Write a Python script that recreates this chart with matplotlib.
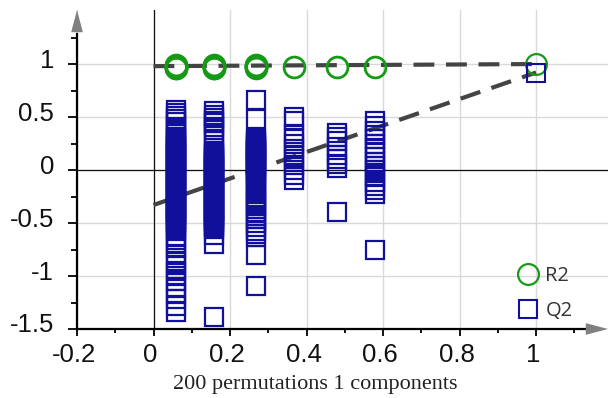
import matplotlib
matplotlib.use('Agg')
import matplotlib.pyplot as plt
import matplotlib.transforms as mtransforms
import numpy as np

# permutation test: correlation (x) vs R2 / Q2
x_perm = [0.06, 0.157, 0.268, 0.367, 0.479, 0.58]

q2_c1 = [0.57, 0.54, 0.51, 0.48, 0.45, 0.41, 0.38, 0.35, 0.31,
         0.30, 0.285, 0.27, 0.255, 0.24, 0.225, 0.21, 0.195, 0.18, 0.165,
         0.15, 0.135, 0.12, 0.105, 0.09, 0.075, 0.06, 0.045, 0.03, 0.015,
         0.0, -0.015, -0.03, -0.045, -0.06, -0.075, -0.09, -0.105, -0.12, -0.135,
         -0.15, -0.165, -0.18, -0.195, -0.21, -0.225, -0.24, -0.255, -0.27, -0.285,
         -0.30, -0.315, -0.33, -0.345, -0.36, -0.375, -0.39, -0.405, -0.42, -0.435,
         -0.45, -0.465, -0.48, -0.495, -0.51, -0.525,
         -0.55, -0.58, -0.62, -0.66, -0.70, -0.74, -0.80, -0.86, -0.90, -0.95,
         -1.00, -1.05, -1.10, -1.16, -1.22, -1.28, -1.34]
q2_c2 = [0.56, 0.52, 0.49, 0.46, 0.44, 0.41, 0.38, 0.33, 0.27, 0.21,
         0.18, 0.165, 0.15, 0.135, 0.12, 0.105, 0.09, 0.075, 0.06, 0.045,
         0.03, 0.015, 0.0, -0.015, -0.03, -0.045, -0.06, -0.075, -0.09, -0.105,
         -0.12, -0.135, -0.15, -0.165, -0.18, -0.195, -0.21, -0.225, -0.24, -0.255,
         -0.27, -0.285, -0.30, -0.315, -0.33, -0.345, -0.36, -0.375, -0.39, -0.405,
         -0.42, -0.435, -0.45, -0.465, -0.48, -0.495, -0.51, -0.525, -0.54, -0.555,
         -0.61, -0.70, -1.39]
q2_c3 = [0.66, 0.48,
         0.30, 0.285, 0.27, 0.255, 0.24, 0.225, 0.21, 0.195, 0.18, 0.165,
         0.15, 0.135, 0.12, 0.105, 0.09, 0.075, 0.06, 0.045, 0.03, 0.015,
         0.0, -0.015,
         -0.04, -0.07, -0.10, -0.13, -0.16, -0.19, -0.22, -0.25, -0.28, -0.31,
         -0.34, -0.37, -0.40, -0.43, -0.46, -0.50, -0.54, -0.58, -0.60, -0.63,
         -0.80, -1.09]
q2_c4 = [0.50, 0.46, 0.34, 0.30, 0.25, 0.20, 0.14, 0.10, 0.05, 0.00, -0.05, -0.09]
q2_c5 = [0.35, 0.31, 0.27, 0.22, 0.14, 0.10, 0.06, 0.02, -0.40]
q2_c6 = [0.46, 0.42, 0.37, 0.33, 0.29, 0.25, 0.21, 0.17, 0.12, 0.08,
         0.04, 0.00, -0.03, -0.07, -0.11, -0.15, -0.19, -0.23, -0.75]

r2_c1 = [0.99, 0.985, 0.98, 0.975, 0.97, 0.965, 0.96]
r2_c2 = [0.99, 0.985, 0.98, 0.975, 0.97, 0.965, 0.96]
r2_c3 = [0.99, 0.985, 0.98, 0.975, 0.97, 0.965]
r2_c4 = [0.975]
r2_c5 = [0.975]
r2_c6 = [0.975]

q2_perm = [q2_c1, q2_c2, q2_c3, q2_c4, q2_c5, q2_c6]
r2_perm = [r2_c1, r2_c2, r2_c3, r2_c4, r2_c5, r2_c6]

# original model
x_orig = 1.0
r2_orig = 1.0
q2_orig = 0.92

# regression lines (value at x=0 and x=1)
fit_x = [0, 1]
r2_fit = [0.98, 1.0]
q2_fit = [-0.33, 0.92]

xticks = [-0.2, 0, 0.2, 0.4, 0.6, 0.8, 1]
xticklabels = ['-0.2', '0', '0.2', '0.4', '0.6', '0.8', '1']
yticks = [-1.5, -1, -0.5, 0, 0.5, 1]
yticklabels = ['-1.5', '-1', '-0.5', '0', '0.5', '1']

green = '#159a15'
blue = '#10109a'

fig = plt.figure(figsize=(6.1, 3.98), dpi=100)
ax = fig.add_axes([77/610, 69/398, 531/610, 319/398])
ax.set_xlim(-0.2, 1.188)
ax.set_ylim(-1.5, 1.51)

ax.grid(True, color='#d9d9d9', lw=1.0, zorder=0)
ax.set_axisbelow(True)
ax.axhline(0, color='#111111', lw=0.9, zorder=1)
ax.axvline(0, color='#111111', lw=0.9, zorder=1)

ax.plot(fit_x, r2_fit, color='#444444', lw=3, dashes=(5, 2.8), zorder=2)
ax.plot(fit_x, q2_fit, color='#444444', lw=3, dashes=(5, 2.8), zorder=2)

for xv, vals in zip(x_perm, q2_perm):
    ax.plot([xv]*len(vals), vals, 's', ms=12.5, mfc='none', mec=blue, mew=1.6, zorder=3)
for xv, vals in zip(x_perm, r2_perm):
    ax.plot([xv]*len(vals), vals, 'o', ms=15, mfc='none', mec=green, mew=2, zorder=3)
h_r2, = ax.plot([x_orig], [r2_orig], 'o', ms=15, mfc='none', mec=green, mew=1.6, zorder=3)
h_q2, = ax.plot([x_orig], [q2_orig], 's', ms=12.5, mfc='none', mec=blue, mew=1.5, zorder=3)

# axes with arrows
for s in ['top', 'right']:
    ax.spines[s].set_visible(False)
ax.spines['left'].set_linewidth(1.6)
ax.spines['bottom'].set_linewidth(1.6)
ax.spines['left'].set_bounds(-1.5, 1.28)
ax.spines['bottom'].set_bounds(-0.2, 1.14)
ax.annotate('', xy=(-0.2, 1.51), xytext=(-0.2, 1.27), annotation_clip=False,
            arrowprops=dict(arrowstyle='-|>,head_length=1.6,head_width=0.42', color='#808080',
                            lw=0, mutation_scale=10, shrinkA=0, shrinkB=0))
ax.annotate('', xy=(1.188, -1.5), xytext=(1.13, -1.5), annotation_clip=False,
            arrowprops=dict(arrowstyle='-|>,head_length=1.6,head_width=0.42', color='#808080',
                            lw=0, mutation_scale=10, shrinkA=0, shrinkB=0))

ax.set_xticks(xticks)
ax.set_xticklabels(xticklabels)
ax.set_yticks(yticks)
ax.set_yticklabels(yticklabels)
ax.set_xticks([-0.1, 0.1, 0.3, 0.5, 0.7, 0.9, 1.1], minor=True)
ax.set_yticks([-1.25, -0.75, -0.25, 0.25, 0.75, 1.25], minor=True)
ax.tick_params(axis='y', which='major', direction='out', length=6.5, width=1.3, pad=10,
               labelsize=18.5)
ax.tick_params(axis='y', which='minor', direction='out', length=4.3, width=1.3)
ax.tick_params(axis='x', which='major', direction='out', length=5, width=1.3, pad=5,
               labelsize=18.5)
ax.tick_params(axis='x', which='minor', direction='out', length=3, width=1.3)
for lab in ax.get_yticklabels() + ax.get_xticklabels():
    lab.set_family('Liberation Sans')
    lab.set_color('#111111')
off_y = mtransforms.ScaledTranslation(0, 6/100, fig.dpi_scale_trans)
for lab in ax.get_yticklabels():
    lab.set_transform(lab.get_transform() + off_y)
off_x = mtransforms.ScaledTranslation(-3/100, 0, fig.dpi_scale_trans)
for lab in ax.get_xticklabels():
    lab.set_transform(lab.get_transform() + off_x)

leg = ax.legend([h_r2, h_q2], ['R2', 'Q2'], loc='lower left', bbox_to_anchor=(0.831, 0.025),
                frameon=False, handlelength=1.0, handletextpad=0.35, labelspacing=0.75,
                borderpad=0, borderaxespad=0, prop={'family': 'Open Sans', 'size': 14.5})
for t in leg.get_texts():
    t.set_color('#333333')

fig.text(315/610, 13/398, '200 permutations 1 components', ha='center', va='center',
         family='Liberation Serif', fontsize=16, color='#222222')

plt.savefig('out.png', dpi=100)
